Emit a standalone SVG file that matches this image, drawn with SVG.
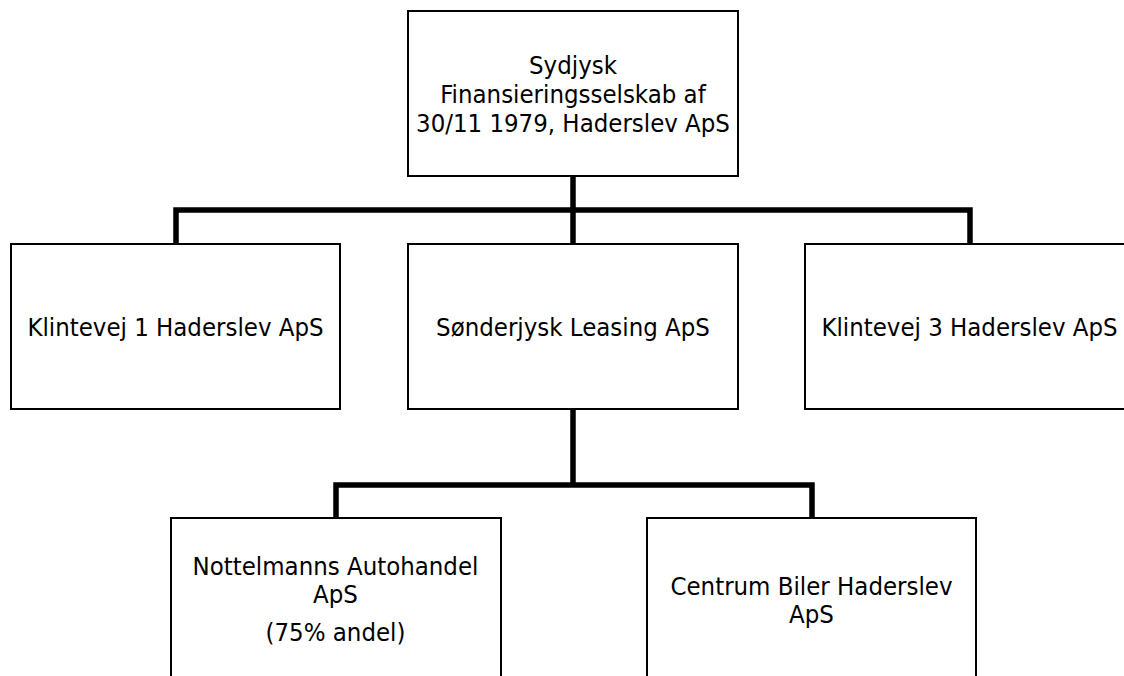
<svg xmlns="http://www.w3.org/2000/svg" width="1124" height="676" viewBox="0 0 1124 676">
<style>
.box{fill:#fff;stroke:#000;stroke-width:2}
.t{font-family:"DejaVu Sans Condensed","DejaVu Sans",sans-serif;font-stretch:condensed;font-size:25.5px;fill:#000;text-anchor:middle}
.c{fill:none;stroke:#000;stroke-width:5.5;stroke-linejoin:miter;stroke-linecap:butt}
</style>
<rect width="1124" height="676" fill="#fff"/>
<g id="connectors">
<path class="c" d="M573 176 V244 M176 244 V210 H970 V244"/>
<path class="c" d="M573 409 V485 M336 518 V485 H812 V518"/>
</g>
<g id="n-top">
<rect class="box" x="408" y="11" width="330" height="165"/>
<text class="t" x="573" y="74">Sydjysk</text>
<text class="t" x="573" y="103">Finansieringsselskab af</text>
<text class="t" x="573" y="132">30/11 1979, Haderslev ApS</text>
</g>
<g id="n-klint1">
<rect class="box" x="11" y="244" width="329" height="165"/>
<text class="t" x="175.5" y="336">Klintevej 1 Haderslev ApS</text>
</g>
<g id="n-leasing">
<rect class="box" x="408" y="244" width="330" height="165"/>
<text class="t" x="573" y="336">Sønderjysk Leasing ApS</text>
</g>
<g id="n-klint3">
<rect class="box" x="805" y="244" width="330" height="165"/>
<text class="t" x="969.5" y="336">Klintevej 3 Haderslev ApS</text>
</g>
<g id="n-nottelmann">
<rect class="box" x="171" y="518" width="330" height="180"/>
<text class="t" x="335.5" y="575">Nottelmanns Autohandel</text>
<text class="t" x="335.5" y="603">ApS</text>
<text class="t" x="335.5" y="641">(75% andel)</text>
</g>
<g id="n-centrum">
<rect class="box" x="647" y="518" width="329" height="180"/>
<text class="t" x="811.5" y="595">Centrum Biler Haderslev</text>
<text class="t" x="811.5" y="623">ApS</text>
</g>
</svg>
